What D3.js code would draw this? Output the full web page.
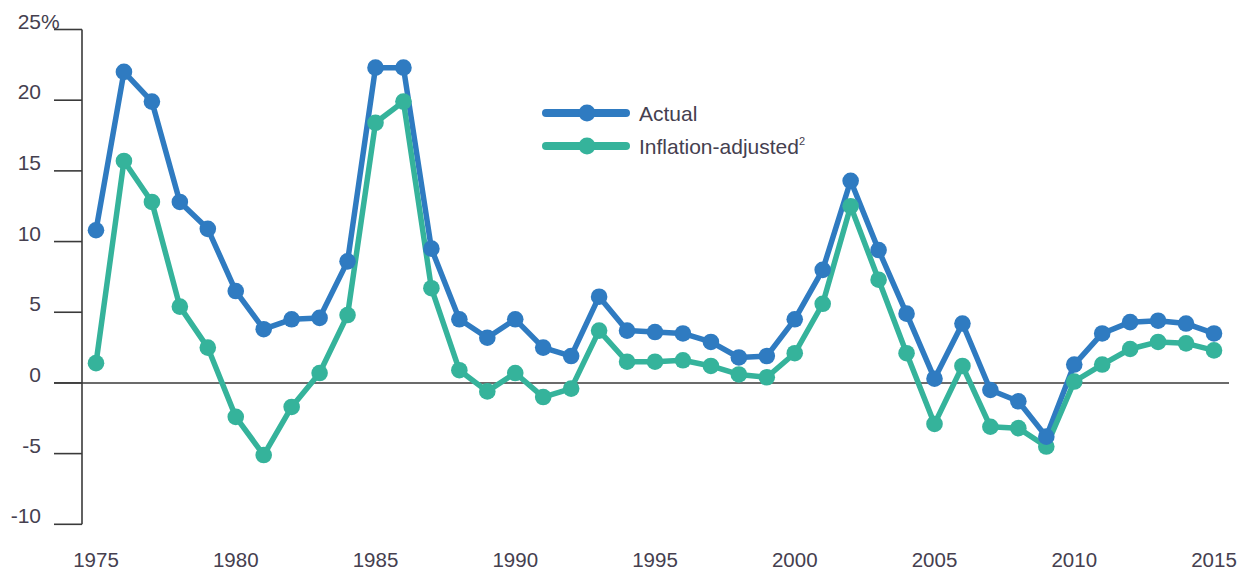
<!DOCTYPE html>
<html>
<head>
<meta charset="utf-8">
<script src="https://cdn.jsdelivr.net/npm/d3@7"></script>
<style>
  html, body { margin: 0; padding: 0; background: #fff; }
  body { font-family: "Liberation Sans", Arial, sans-serif; }
  svg text { fill: #45404f; }
</style>
</head>
<body>
<svg id="chart" width="1245" height="573"></svg>
<script>
// years on the x axis
const years = d3.range(1975, 2016)

// annual change, percent
const actual = [10.8, 22.0, 19.9, 12.8, 10.9, 6.5, 3.8, 4.5, 4.6, 8.6,
  22.3, 22.3, 9.5, 4.5, 3.2, 4.5, 2.5, 1.9, 6.1, 3.7,
  3.6, 3.5, 2.9, 1.8, 1.9, 4.5, 8.0, 14.3, 9.4, 4.9,
  0.3, 4.2, -0.5, -1.3, -3.8, 1.3, 3.5, 4.3, 4.4, 4.2, 3.5]

const inflationAdjusted = [1.4, 15.7, 12.8, 5.4, 2.5, -2.4, -5.1, -1.7, 0.7, 4.8,
  18.4, 19.9, 6.7, 0.9, -0.6, 0.7, -1.0, -0.4, 3.7, 1.5,
  1.5, 1.6, 1.2, 0.6, 0.4, 2.1, 5.6, 12.5, 7.3, 2.1,
  -2.9, 1.2, -3.1, -3.2, -4.5, 0.1, 1.3, 2.4, 2.9, 2.8, 2.3]

const yTicks = [-10, -5, 0, 5, 10, 15, 20, 25]
const xTicks = [1975, 1980, 1985, 1990, 1995, 2000, 2005, 2010, 2015]

const seriesNames = ["Actual", "Inflation-adjusted"]
const seriesColors = ["#2f7bc1", "#35b39b"]

const svg = d3.select("#chart")

const x = d3.scaleLinear().domain([1975, 2015]).range([96, 1214])
const y = d3.scaleLinear().domain([-10, 25]).range([524.3, 29.5])

// y axis: vertical line plus ticks to the left
const axisX = 82
svg.append("line")
  .attr("x1", axisX).attr("x2", axisX)
  .attr("y1", y(25)).attr("y2", y(-10))
  .attr("stroke", "#3a3a3a").attr("stroke-width", 1.6)

svg.selectAll(".ytick")
  .data(yTicks)
  .enter().append("line")
  .attr("class", "ytick")
  .attr("x1", 54).attr("x2", axisX)
  .attr("y1", d => y(d)).attr("y2", d => y(d))
  .attr("stroke", "#3a3a3a").attr("stroke-width", 1.6)

svg.selectAll(".ylabel")
  .data(yTicks)
  .enter().append("text")
  .attr("class", "ylabel")
  .attr("x", 41)
  .attr("y", d => y(d) - 1)
  .attr("text-anchor", "end")
  .style("font-size", "21px")
  .text(d => d)

// percent sign after the top label
svg.append("text")
  .attr("x", 41)
  .attr("y", y(25) - 1)
  .style("font-size", "21px")
  .text("%")

// zero line across the plot
svg.append("line")
  .attr("x1", 54).attr("x2", 1229)
  .attr("y1", y(0)).attr("y2", y(0))
  .attr("stroke", "#3a3a3a").attr("stroke-width", 1.4)

// x labels
svg.selectAll(".xlabel")
  .data(xTicks)
  .enter().append("text")
  .attr("class", "xlabel")
  .attr("x", d => x(d))
  .attr("y", 567)
  .attr("text-anchor", "middle")
  .style("font-size", "20.5px")
  .text(d => d)

const series = [actual, inflationAdjusted]
const line = d3.line()
  .x((d, i) => x(years[i]))
  .y(d => y(d))

series.forEach((s, k) => {
  svg.append("path")
    .datum(s)
    .attr("fill", "none")
    .attr("stroke", seriesColors[k])
    .attr("stroke-width", 5.5)
    .attr("stroke-linejoin", "round")
    .attr("d", line)
})

// dots: green first, blue on top
;[1, 0].forEach(k => {
  svg.selectAll(".dot" + k)
    .data(series[k])
    .enter().append("circle")
    .attr("class", "dot" + k)
    .attr("cx", (d, i) => x(years[i]))
    .attr("cy", d => y(d))
    .attr("r", 8.3)
    .attr("fill", seriesColors[k])
})

// legend
const legend = svg.selectAll(".legend")
  .data(seriesNames)
  .enter().append("g")
  .attr("class", "legend")
  .attr("transform", (d, i) => "translate(0," + (113 + i * 33) + ")")

legend.append("line")
  .attr("x1", 546).attr("x2", 626)
  .attr("y1", 0).attr("y2", 0)
  .attr("stroke", (d, i) => seriesColors[i])
  .attr("stroke-width", 8)
  .attr("stroke-linecap", "round")

legend.append("circle")
  .attr("cx", 587).attr("cy", 0).attr("r", 8.5)
  .attr("fill", (d, i) => seriesColors[i])

const legendText = legend.append("text")
  .attr("x", 639)
  .attr("y", 7.5)
  .style("font-size", "21px")
  .text(d => d)

legendText.filter((d, i) => i === 1)
  .append("tspan")
  .attr("dy", -9)
  .style("font-size", "11px")
  .text("2")
</script>
</body>
</html>
